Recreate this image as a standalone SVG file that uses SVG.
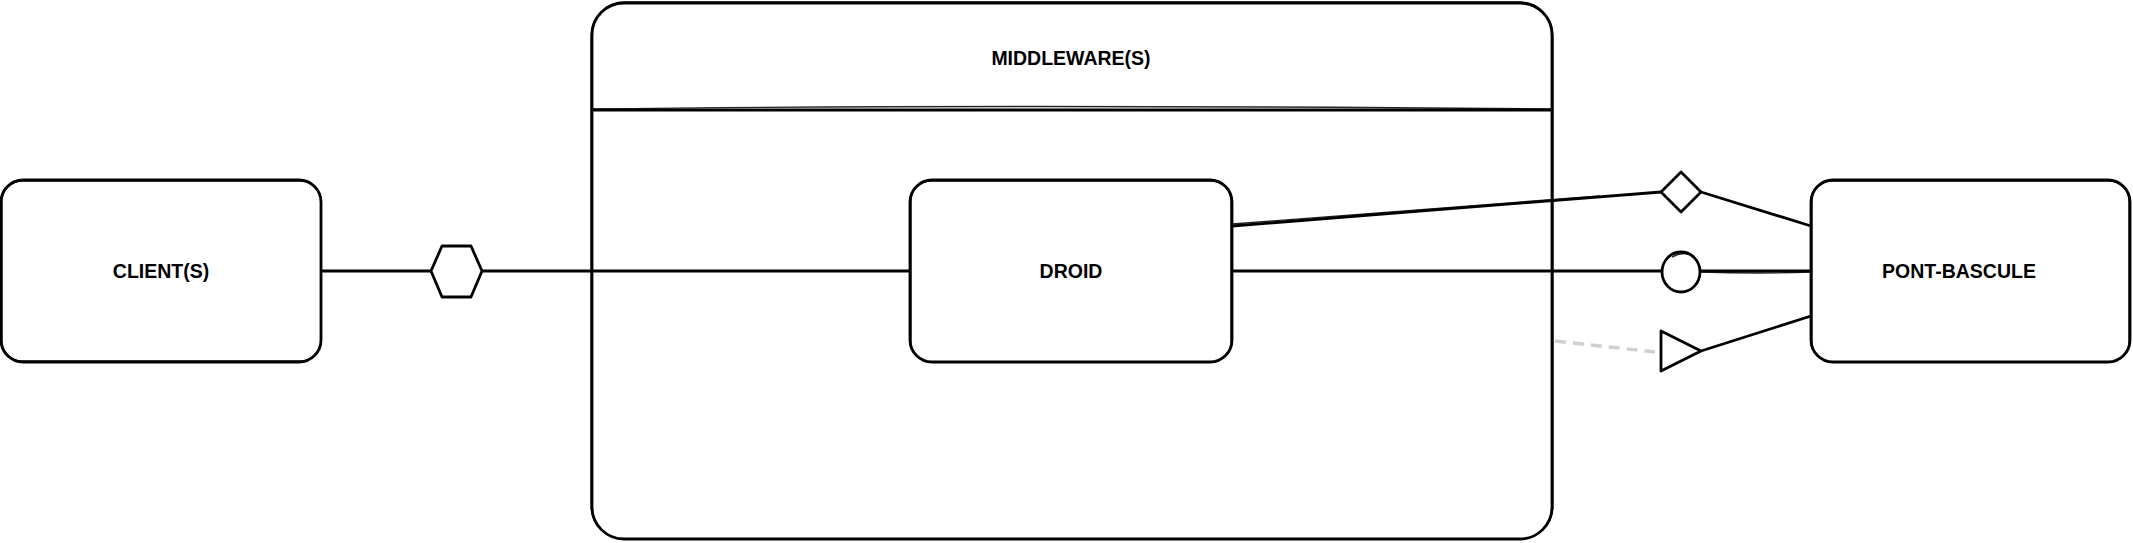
<svg xmlns="http://www.w3.org/2000/svg" width="2133" height="543" viewBox="0 0 2133 543">
<style>
.box{fill:#fff;stroke:#000;stroke-width:2.8;stroke-linejoin:round}
.sk{fill:none;stroke:#000;stroke-width:1.4;opacity:0.85}
.ln{fill:none;stroke:#000;stroke-width:2.8}
.dash{fill:none;stroke:#d0d0d0;stroke-width:3.5;stroke-dasharray:11 7}
.lbl{font-family:"Liberation Sans",Arial,sans-serif;font-weight:bold;font-size:19.5px;fill:#000;text-anchor:middle}
</style>
<rect width="2133" height="543" fill="#fff"/>
<g id="middleware">
<rect class="box" x="592" y="3" width="960" height="536" rx="32" ry="32"/>
<rect class="sk" x="591" y="2" width="962" height="537" rx="34" ry="33"/>
<line class="ln" x1="592" y1="110" x2="1552" y2="110"/>
<path class="sk" d="M592 109 Q1000 104 1552 109"/>
<text class="lbl" x="1071" y="65">MIDDLEWARE(S)</text>
</g>
<g id="connectors">
<line class="ln" x1="321" y1="271" x2="431" y2="271"/>
<line class="ln" x1="482" y1="271" x2="910" y2="271"/>
<line class="ln" x1="1232" y1="226" x2="1661" y2="192"/>
<path class="sk" d="M1232 224 L1600 196"/>
<line class="ln" x1="1701" y1="192" x2="1811" y2="226"/>
<line class="ln" x1="1232" y1="271" x2="1661" y2="271"/>
<line class="ln" x1="1701" y1="271" x2="1811" y2="271"/>
<path class="sk" d="M1701 272 Q1760 274 1811 272"/>
<line class="ln" x1="1701" y1="351" x2="1811" y2="316"/>
<line class="dash" x1="1555" y1="341" x2="1655" y2="352"/>
</g>
<g id="client">
<rect class="box" x="1" y="180" width="320" height="182" rx="22" ry="22"/>
<rect class="sk" x="2" y="181" width="319" height="180" rx="20" ry="20"/>
<text class="lbl" x="161" y="278">CLIENT(S)</text>
</g>
<g id="hexagon">
<polygon class="box" points="431,271 442,246 471,246 482,271 471,297 442,297"/>
</g>
<g id="droid">
<rect class="box" x="910" y="180" width="322" height="182" rx="22" ry="22"/>
<rect class="sk" x="911" y="181" width="320" height="181" rx="20" ry="20"/>
<text class="lbl" x="1071" y="278">DROID</text>
</g>
<g id="pont-bascule">
<rect class="box" x="1811" y="180" width="319" height="182" rx="22" ry="22"/>
<rect class="sk" x="1812" y="181" width="317" height="181" rx="20" ry="20"/>
<text class="lbl" x="1959" y="278">PONT-BASCULE</text>
</g>
<g id="diamond">
<polygon class="box" points="1661,192 1681,172 1701,192 1681,212"/>
</g>
<g id="circle">
<ellipse class="box" cx="1681" cy="272" rx="19" ry="20"/>
<path class="sk" d="M1672 257 Q1690 248 1698 262"/>
</g>
<g id="triangle">
<polygon class="box" points="1661,331 1701,351 1661,371"/>
</g>
</svg>
